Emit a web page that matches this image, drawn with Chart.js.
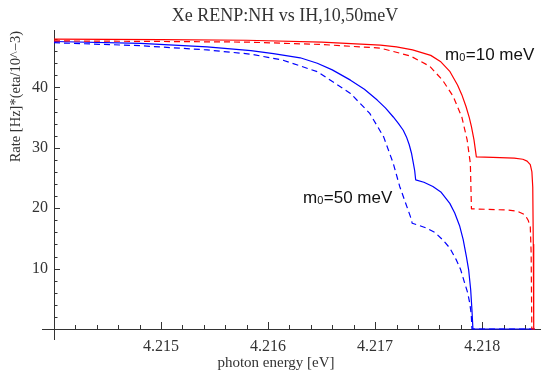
<!DOCTYPE html>
<html>
<head>
<meta charset="UTF-8">
<title>Xe RENP:NH vs IH</title>
<script src="https://cdn.jsdelivr.net/npm/chart.js"></script>
<style>
  body { margin: 0; background: #fff; }
  canvas { display: block; }
</style>
</head>
<body>
<canvas id="renpChart" width="541" height="374"></canvas>
<script>
// values (photon energy in eV, rate)
const redSolidX = [4.2140, 4.2150, 4.2158, 4.2165, 4.21705, 4.2172, 4.21735, 4.21752, 4.21761, 4.21770, 4.21777, 4.21781, 4.21785, 4.21788, 4.21790, 4.217924, 4.217946, 4.21810, 4.21830, 4.21838, 4.21842, 4.21845, 4.218465, 4.218473, 4.218478, 4.218482, 4.21849];
const redSolidY = [48.0, 47.9, 47.8, 47.5, 47.0, 46.7, 46.2, 45.3, 44.3, 42.6, 40.4, 38.8, 36.8, 35.0, 33.5, 31.3, 28.5, 28.4, 28.3, 28.1, 27.8, 27.2, 26.0, 23.5, 14.0, 0, 0];

const redDashX = [4.2140, 4.2150, 4.2158, 4.2165, 4.21705, 4.21733, 4.21751, 4.21763, 4.21773, 4.21781, 4.21786, 4.21789, 4.21790, 4.21823, 4.21833, 4.21840, 4.21843, 4.21845, 4.218458, 4.218464, 4.21849];
const redDashY = [47.7, 47.6, 47.5, 47.1, 46.5, 45.2, 43.5, 41.2, 38.5, 35.1, 31.3, 27.4, 19.9, 19.7, 19.5, 18.9, 18.0, 16.9, 12.6, 0, 0];

const blueSolidX = [4.2140, 4.21481, 4.21543, 4.21584, 4.21605, 4.21630, 4.21646, 4.21660, 4.21677, 4.21690, 4.21702, 4.217096, 4.21717, 4.217219, 4.217263, 4.217293, 4.217319, 4.21734, 4.217356, 4.21737, 4.217379,
                    4.217456, 4.21754, 4.217614, 4.217698, 4.217744, 4.217791, 4.217823, 4.217853, 4.217874, 4.217893, 4.217905, 4.217914, 4.21849];
const blueSolidY = [47.6, 47.3, 46.7, 46.1, 45.6, 44.9, 44.0, 42.9, 41.2, 39.7, 37.9, 36.6, 35.1, 34.0, 32.9, 31.8, 30.5, 29.1, 27.6, 26.2, 24.7,
                    24.3, 23.6, 22.7, 20.8, 19.2, 17.0, 14.8, 12.0, 9.8, 6.5, 3.1, 0, 0];

const blueDashX = [4.2140, 4.21481, 4.21543, 4.21584, 4.21614, 4.21646, 4.21677, 4.21695, 4.21708, 4.21717, 4.21723, 4.21733, 4.217347,
                   4.217419, 4.217481, 4.217558, 4.217635, 4.217698, 4.21776, 4.2178, 4.217837, 4.217865, 4.217884, 4.217898, 4.217905, 4.21849];
const blueDashY = [47.4, 46.9, 46.2, 45.5, 44.5, 42.6, 39.0, 35.7, 31.8, 27.4, 23.6, 18.6, 17.5,
                   17.1, 16.7, 16.0, 14.7, 13.4, 11.4, 9.8, 7.6, 6.0, 4.3, 2.5, 0, 0];

const xTicks = [4.215, 4.216, 4.217, 4.218];
const yTicks = [10, 20, 30, 40];
const xMinorStep = 0.0002;
const yMinorStep = 2;

function pairs(xs, ys) {
    return xs.map((x, i) => ({ x: x, y: ys[i] }));
}

const axisColor = '#333';
const serif = '"Liberation Serif", "DejaVu Serif", serif';
const sans = '"Liberation Sans", Arial, sans-serif';

// axes crossing at (4.214, 0) with inward ticks, Mathematica style
const axesPlugin = {
    id: 'axesPlugin',
    beforeDatasetsDraw(chart) {
        const ctx = chart.ctx;
        const xs = chart.scales.x, ys = chart.scales.y;
        const x0 = xs.getPixelForValue(4.214);
        const y0 = ys.getPixelForValue(0);
        ctx.save();
        ctx.strokeStyle = axisColor;
        ctx.lineWidth = 1;
        ctx.beginPath();
        ctx.moveTo(42, y0 + 0.5);
        ctx.lineTo(chart.width, y0 + 0.5);
        ctx.moveTo(Math.round(x0) + 0.5, chart.chartArea.top);
        ctx.lineTo(Math.round(x0) + 0.5, y0 + 11);
        // x ticks
        for (let k = 1; 4.214 + k * xMinorStep <= xs.max; k++) {
            const v = 4.214 + k * xMinorStep;
            const px = Math.round(xs.getPixelForValue(v)) + 0.5;
            const major = k % 5 === 0;
            ctx.moveTo(px, y0);
            ctx.lineTo(px, y0 - (major ? 7 : 4));
        }
        // y ticks
        for (let k = 1; k * yMinorStep <= ys.max; k++) {
            const v = k * yMinorStep;
            const py = Math.round(ys.getPixelForValue(v)) + 0.5;
            const major = k % 5 === 0;
            ctx.moveTo(x0, py);
            ctx.lineTo(x0 + (major ? 6 : 3.5), py);
        }
        ctx.stroke();
        ctx.restore();
    },
    afterDraw(chart) {
        const ctx = chart.ctx;
        ctx.save();
        ctx.fillStyle = '#333';
        // title
        ctx.font = '18px ' + serif;
        ctx.textAlign = 'center';
        ctx.textBaseline = 'alphabetic';
        ctx.fillText('Xe RENP:NH vs IH,10,50meV', 285, 21);
        // x axis label
        ctx.font = '15px ' + serif;
        ctx.fillText('photon energy [eV]', 276, 367);
        // y axis label, placed at the top of the axis
        ctx.save();
        ctx.translate(16, 31);
        ctx.rotate(-Math.PI / 2);
        ctx.textAlign = 'right';
        ctx.textBaseline = 'middle';
        ctx.font = '14.5px ' + serif;
        ctx.fillText('Rate [Hz]*(eta/10^\u22123)', 0, 0);
        ctx.restore();
        // curve labels
        ctx.fillStyle = '#111';
        drawMassLabel(ctx, 445, 60, '=10 meV');
        drawMassLabel(ctx, 303, 203, '=50 meV');
        ctx.restore();
    }
};

function drawMassLabel(ctx, x, y, rest) {
    ctx.textAlign = 'left';
    ctx.textBaseline = 'alphabetic';
    ctx.font = '17px ' + sans;
    ctx.fillText('m', x, y);
    let w = ctx.measureText('m').width;
    ctx.font = '11px ' + sans;
    ctx.fillText('0', x + w, y + 1);
    w += ctx.measureText('0').width + 0.5;
    ctx.font = '17px ' + sans;
    ctx.fillText(rest, x + w, y);
}

const ctx = document.getElementById('renpChart').getContext('2d');
new Chart(ctx, {
    type: 'line',
    data: {
        datasets: [
            { data: pairs(redSolidX, redSolidY), borderColor: '#ff0000', borderWidth: 1.2 },
            { data: pairs(redDashX, redDashY), borderColor: '#ff0000', borderWidth: 1.2, borderDash: [6, 4] },
            { data: pairs(blueSolidX, blueSolidY), borderColor: '#0000ff', borderWidth: 1.2 },
            { data: pairs(blueDashX, blueDashY), borderColor: '#0000ff', borderWidth: 1.2, borderDash: [6, 4] }
        ]
    },
    options: {
        responsive: false,
        animation: false,
        clip: 3,
        layout: { padding: { top: 30, left: 0, right: 0, bottom: 0 } },
        elements: {
            point: { radius: 0 },
            line: { tension: 0, fill: false, borderJoinStyle: 'round' }
        },
        plugins: {
            legend: { display: false },
            tooltip: { enabled: false }
        },
        scales: {
            x: {
                type: 'linear',
                min: 4.214,
                max: 4.21855,
                grid: { display: false, drawTicks: false },
                border: { display: false },
                afterBuildTicks: s => { s.ticks = xTicks.map(v => ({ value: v })); },
                afterFit: s => { s.height = 45; },
                ticks: {
                    padding: 8,
                    autoSkip: false,
                    maxRotation: 0,
                    color: '#333',
                    font: { family: serif, size: 16 },
                    callback: v => v.toFixed(3)
                }
            },
            y: {
                min: 0,
                max: 49.5,
                grid: { display: false, drawTicks: false },
                border: { display: false },
                afterBuildTicks: s => { s.ticks = yTicks.map(v => ({ value: v })); },
                afterFit: s => { s.width = 54; },
                ticks: {
                    padding: 6,
                    color: '#333',
                    font: { family: serif, size: 16 }
                }
            }
        }
    },
    plugins: [axesPlugin]
});
</script>
</body>
</html>
